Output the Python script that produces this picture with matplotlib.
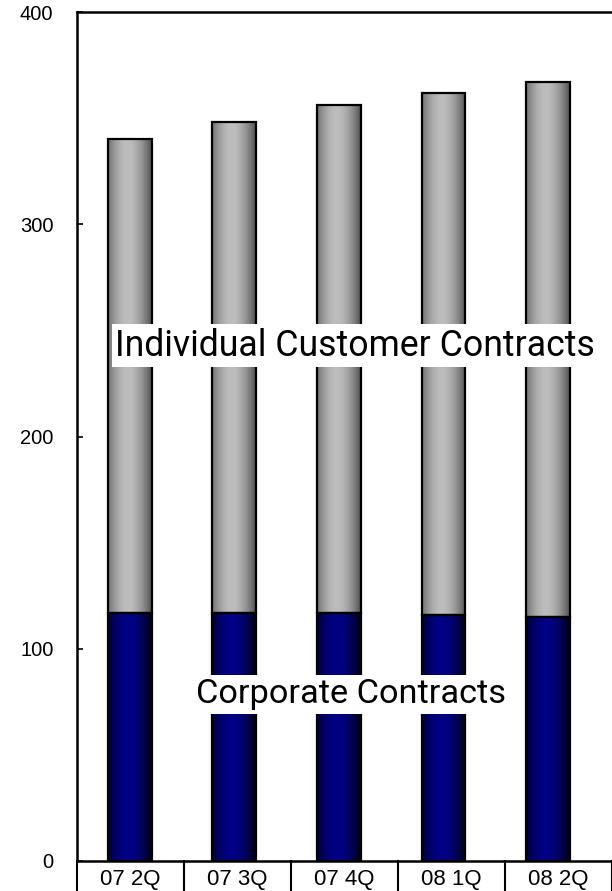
import numpy as np
import matplotlib
matplotlib.use("Agg")
import matplotlib.pyplot as plt
from matplotlib.colors import LinearSegmentedColormap
from matplotlib.lines import Line2D

quarters = ["07 2Q", "07 3Q", "07 4Q", "08 1Q", "08 2Q"]
corporate = [117, 117, 117, 116, 115]
individual = [223, 231, 239, 246, 252]
yticks = [0, 100, 200, 300, 400]

label_font = ["Roboto", "DejaVu Sans"]
tick_font = ["Liberation Sans", "DejaVu Sans"]

fig = plt.figure(figsize=(6.12, 8.91), dpi=100)
ax = fig.add_axes([77 / 612, 1 - 861 / 891, 1 - 77 / 612, (861 - 12) / 891])

x = np.arange(len(quarters))
width = 0.42
b1 = ax.bar(x, corporate, width, color="none", edgecolor="black", linewidth=1.6, zorder=3)
b2 = ax.bar(x, individual, width, bottom=corporate, color="none", edgecolor="black",
            linewidth=1.6, zorder=3)

gray_cmap = LinearSegmentedColormap.from_list("g", ["#505050", "#bdbdbd"])
navy_cmap = LinearSegmentedColormap.from_list("n", ["#000010", "#000086"])
t = np.linspace(0, 1, 200)
prof = np.clip(1 - np.abs((t - 0.45) / 0.55) ** 1.8, 0, 1)
prof = prof[None, :]

for bars, cmap in ((b1, navy_cmap), (b2, gray_cmap)):
    for r in bars:
        x0, y0, w, h = r.get_x(), r.get_y(), r.get_width(), r.get_height()
        ax.imshow(prof, cmap=cmap, vmin=0, vmax=1, aspect="auto",
                  extent=(x0, x0 + w, y0, y0 + h), zorder=2, interpolation="bilinear")

ax.set_xlim(-0.504, -0.504 + 535 / 104.6)
ax.set_ylim(0, 400)
ax.set_yticks(yticks)
ax.set_yticklabels([str(v) for v in yticks], family=tick_font, fontsize=14.5)
ax.tick_params(axis="y", direction="in", length=4, width=1.2, pad=17)

# category cells below the axis
xl = ax.get_xlim()
centers = [xl[0] + (i + 0.5) / len(quarters) * (xl[1] - xl[0]) for i in range(len(quarters))]
ax.set_xticks(centers)
ax.set_xticklabels(quarters, family=tick_font, fontsize=16)
ax.tick_params(axis="x", length=0, pad=6)
for i in range(len(quarters) + 1):
    ax.add_line(Line2D([i / len(quarters)] * 2, [0, -0.1], transform=ax.transAxes,
                       color="black", lw=1.5, clip_on=False))

for s in ("left", "top", "bottom"):
    ax.spines[s].set_linewidth(1.8)
ax.spines["right"].set_visible(False)

t1 = ax.text(2.154, 242.7, "Individual Customer Contracts", ha="center", va="center",
             fontsize=29, family=label_font, zorder=5,
             bbox=dict(facecolor="white", edgecolor="none", pad=3))
t2 = ax.text(2.116, 78.5, "Corporate Contracts", ha="center", va="center",
             fontsize=29, family=label_font, zorder=5,
             bbox=dict(facecolor="white", edgecolor="none", pad=3))

# fit label sizes to the widths seen in the reference
fig.canvas.draw()
r = fig.canvas.get_renderer()
for txt, target in ((t1, 480), (t2, 310)):
    wpx = txt.get_window_extent(r).width
    txt.set_fontsize(txt.get_fontsize() * target / wpx)

fig.savefig("out.png", dpi=100)
